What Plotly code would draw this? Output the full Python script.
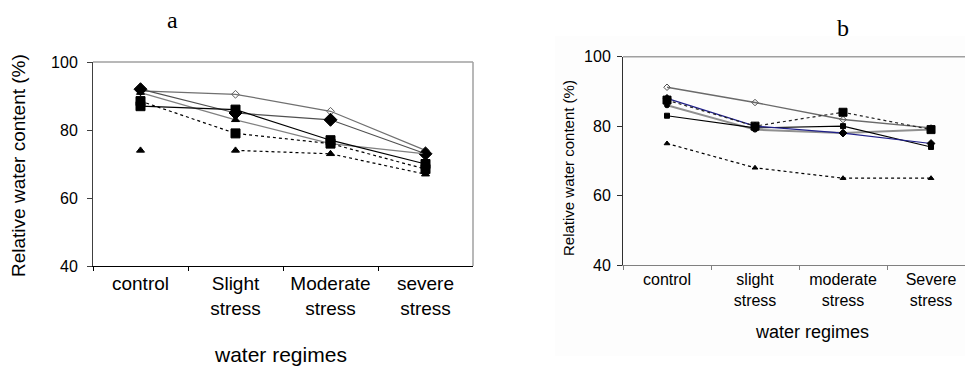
import plotly.graph_objects as go

# ---------------- data ----------------
cats_a = ["control", "Slight<br>stress", "Moderate<br>stress", "severe<br>stress"]
open_diamond_a = [91.5, 90.5, 85.5, 74]
filled_diamond_a = [92, 85, 83, 73]
triangle_solid_a = [91, 83, 76, 73]
square_solid_a = [87, 86, 77, 70]
square_dotted_a = [88.5, 79, 76, 68.5]
triangle_dotted_a = [74, 74, 73, 67]

cats_b = ["control", "slight<br>stress", "moderate<br>stress", "Severe<br>stress"]
open_diamond_b = [91.2, 86.8, 81.9, 79.5]
square_dotted_b = [87.5, 80, 84, 79]
blue_line_b = [88, 80, 78, 75]
gray_line_b = [86, 79, 78, 79]
square_solid_b = [83, 79.5, 80, 74]
triangle_dotted_b = [75, 68, 65, 65]

yticks = [40, 60, 80, 100]

FONT = "Liberation Sans, Arial, sans-serif"

fig = go.Figure()


def add(x, y, xa, ya, lcolor, dash, msym, msize, mcolor, lw=1.2, mode="lines+markers"):
    fig.add_trace(go.Scatter(
        x=x, y=y, xaxis=xa, yaxis=ya, mode=mode,
        line=dict(color=lcolor, width=lw, dash=dash),
        marker=dict(symbol=msym, size=msize, color=mcolor,
                    line=dict(color=mcolor, width=1)),
        showlegend=False, hoverinfo="skip"))


# chart a
add(cats_a, open_diamond_a, "x", "y", "#707070", "solid", "diamond-open", 6, "#606060")
add(cats_a, filled_diamond_a, "x", "y", "#505050", "solid", "diamond", 10, "black")
add(cats_a, triangle_solid_a, "x", "y", "#808080", "solid", "triangle-up", 7, "black")
add(cats_a, square_solid_a, "x", "y", "black", "solid", "square", 9, "black")
add(cats_a, square_dotted_a, "x", "y", "black", "dot", "square", 9, "black")
add(cats_a[1:], triangle_dotted_a[1:], "x", "y", "black", "dot", "triangle-up", 7, "black", mode="lines")
add(cats_a, triangle_dotted_a, "x", "y", "black", "dot", "triangle-up", 7, "black", mode="markers")

# chart b
add(cats_b, open_diamond_b, "x2", "y2", "#6a6a6a", "solid", "diamond-open", 5, "#505050", lw=1.4)
add(cats_b, gray_line_b, "x2", "y2", "#909090", "solid", "circle", 5, "black", lw=2)
add(cats_b, square_solid_b, "x2", "y2", "black", "solid", "square", 5, "black")
add(cats_b, blue_line_b, "x2", "y2", "#20208a", "solid", "diamond", 6, "black")
add(cats_b, square_dotted_b, "x2", "y2", "#222222", "dot", "square", 8, "black")
add(cats_b, triangle_dotted_b, "x2", "y2", "black", "dot", "triangle-up", 5, "black")

xcommon = dict(type="category", tickson="boundaries", ticks="outside", ticklen=4,
               showgrid=False, zeroline=False, showline=True, automargin=False,
               tickfont=dict(family=FONT, color="black"))
ycommon = dict(range=[40, 100], tickvals=yticks, ticks="outside", ticklen=5,
               showgrid=False, zeroline=False, showline=True, automargin=False,
               tickfont=dict(family=FONT, size=16, color="black"))

fig.update_layout(
    template="none",
    width=965, height=369,
    margin=dict(l=0, r=0, t=0, b=0, pad=0),
    paper_bgcolor="white", plot_bgcolor="rgba(0,0,0,0)",
    xaxis=dict(xcommon, domain=[93 / 965, 473 / 965], range=[-0.5, 3.5],
               linecolor="black", tickcolor="black",
               tickfont=dict(family=FONT, size=19, color="black"), anchor="y"),
    yaxis=dict(ycommon, domain=[1 - 266 / 369, 1 - 62 / 369], linecolor="#404040",
               tickcolor="#404040", anchor="x", ticklabelstandoff=6),
    xaxis2=dict(xcommon, domain=[623 / 965, 1.0], range=[-0.5, 3.386],
                linecolor="#808080", tickcolor="#808080",
                tickfont=dict(family=FONT, size=16, color="black"), anchor="y2"),
    yaxis2=dict(ycommon, domain=[1 - 265 / 369, 1 - 56.7 / 369], linecolor="#303030",
                tickcolor="#303030", anchor="x2", ticklabelstandoff=3),
)

# faint panel background of chart b
fig.add_shape(type="rect", xref="paper", yref="paper", x0=555 / 965, x1=1.0,
              y0=1 - 356 / 369, y1=1 - 36 / 369, layer="below",
              fillcolor="#fdfdfd", line=dict(width=0))

# borders (top/right) drawn in gray
fig.add_shape(type="line", xref="paper", yref="paper", x0=93 / 965, x1=473 / 965,
              y0=1 - 62 / 369, y1=1 - 62 / 369, line=dict(color="#a0a0a0", width=1.5))
fig.add_shape(type="line", xref="paper", yref="paper", x0=473 / 965, x1=473 / 965,
              y0=1 - 62 / 369, y1=1 - 266 / 369, line=dict(color="#a0a0a0", width=1.5))
fig.add_shape(type="line", xref="paper", yref="paper", x0=623 / 965, x1=1.0,
              y0=1 - 56.7 / 369, y1=1 - 56.7 / 369, line=dict(color="#a0a0a0", width=1.5))

ann = [
    dict(text="a", x=172 / 965, y=1 - 20 / 369, font=dict(family="Liberation Serif, Times New Roman, serif", size=24)),
    dict(text="b", x=843 / 965, y=1 - 28 / 369, font=dict(family="Liberation Serif, Times New Roman, serif", size=24)),
    dict(text="water regimes", x=280 / 965, y=1 - 354 / 369, font=dict(family=FONT, size=21)),
    dict(text="water regimes", x=812 / 965, y=1 - 332 / 369, font=dict(family=FONT, size=18)),
    dict(text="Relative water content (%)", x=18 / 965, y=1 - 166 / 369, textangle=-90,
         font=dict(family=FONT, size=19)),
    dict(text="Relative water content (%)", x=568 / 965, y=1 - 168 / 369, textangle=-90,
         font=dict(family=FONT, size=15)),
]
for a in ann:
    a.update(xref="paper", yref="paper", showarrow=False, xanchor="center", yanchor="middle")
    a["font"]["color"] = "black"
    fig.add_annotation(**a)

fig.write_html("out.html", config={"displayModeBar": False},
               post_script="document.body.style.margin='0';document.body.style.padding='0';")
